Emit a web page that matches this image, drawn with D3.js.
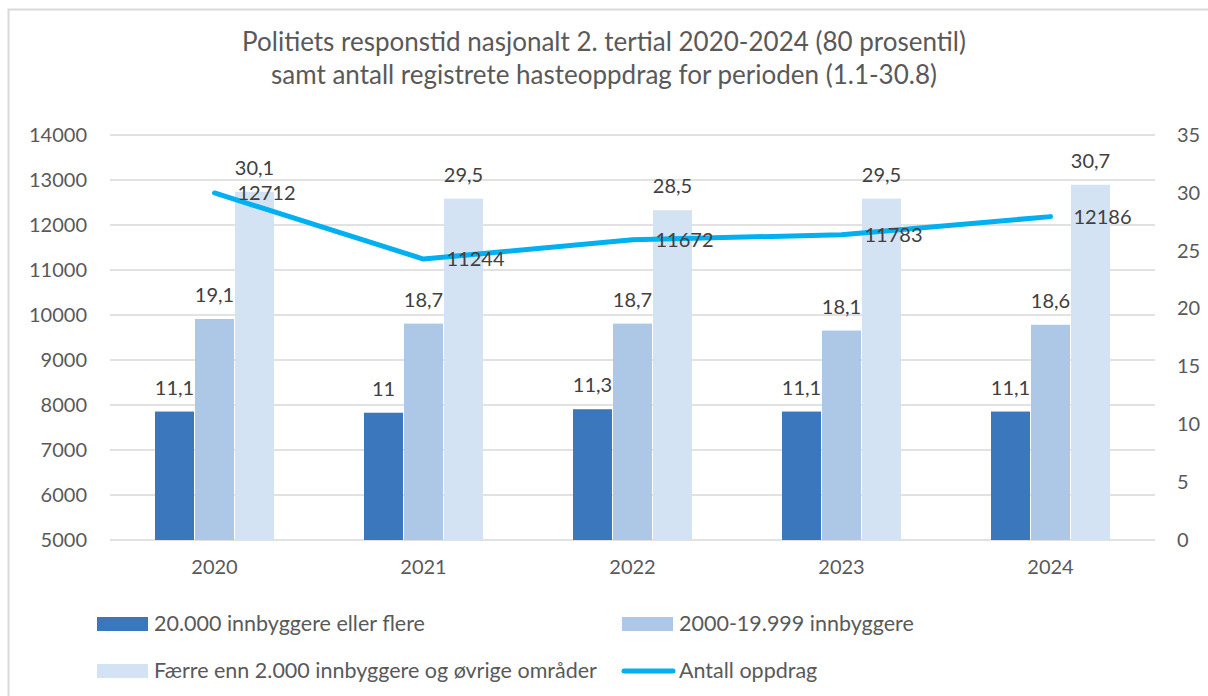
<!DOCTYPE html>
<html>
<head>
<meta charset="utf-8">
<script src="https://cdn.jsdelivr.net/npm/d3@7"></script>
<style>
  body { margin: 0; background: #fff; }
  svg { font-family: Lato, "Open Sans", sans-serif; }
</style>
</head>
<body>
<svg width="1208" height="696"></svg>
<script>
const years = ["2020", "2021", "2022", "2023", "2024"]
const big = [11.1, 11, 11.3, 11.1, 11.1]
const mid = [19.1, 18.7, 18.7, 18.1, 18.6]
const small = [30.1, 29.5, 28.5, 29.5, 30.7]
const oppdrag = [12712, 11244, 11672, 11783, 12186]

const seriesNames = [
  "20.000 innbyggere eller flere",
  "2000-19.999 innbyggere",
  "Færre enn 2.000 innbyggere og øvrige områder",
  "Antall oppdrag"
]
const colors = ["#3a77bc", "#adc8e6", "#d4e3f3", "#00b0f0"]
const leftTicks = [5000, 6000, 7000, 8000, 9000, 10000, 11000, 12000, 13000, 14000]
const rightTicks = [0, 5, 10, 15, 20, 25, 30, 35]

const barSeries = [big, mid, small]

const svg = d3.select("svg")
const plotL = 110, plotR = 1155, plotT = 135, plotB = 540

// chart frame
svg.append("rect")
  .attr("x", 8.5).attr("y", 9.5)
  .attr("width", 1300).attr("height", 800)
  .attr("fill", "none").attr("stroke", "#d9d9d9").attr("stroke-width", 2)

svg.append("text")
  .attr("x", 604).attr("y", 51)
  .attr("text-anchor", "middle")
  .attr("font-size", 26).attr("fill", "#595959")
  .text("Politiets responstid nasjonalt 2. tertial 2020-2024 (80 prosentil)")
svg.append("text")
  .attr("x", 604).attr("y", 84)
  .attr("text-anchor", "middle")
  .attr("font-size", 26).attr("fill", "#595959")
  .text("samt antall registrete hasteoppdrag for perioden (1.1-30.8)")

const x = d3.scaleBand().domain(years).range([plotL, plotR])
const yL = d3.scaleLinear().domain([5000, 14000]).range([plotB, plotT])
const yR = d3.scaleLinear().domain([0, 35]).range([plotB, plotT])

// gridlines
svg.append("g")
  .selectAll("line")
  .data(leftTicks).enter()
  .append("line")
  .attr("x1", plotL).attr("x2", plotR)
  .attr("y1", d => yL(d)).attr("y2", d => yL(d))
  .attr("stroke", "#d9d9d9").attr("stroke-width", 1.5)

// axes
const axL = svg.append("g")
  .attr("transform", "translate(" + plotL + ",0)")
  .call(d3.axisLeft(yL).tickValues(leftTicks).tickSize(0).tickPadding(23).tickFormat(d3.format("d")))
const axR = svg.append("g")
  .attr("transform", "translate(" + plotR + ",0)")
  .call(d3.axisRight(yR).tickValues(rightTicks).tickSize(0).tickPadding(22))
const axX = svg.append("g")
  .attr("transform", "translate(0," + plotB + ")")
  .call(d3.axisBottom(x).tickSize(0).tickPadding(20))
;[axL, axR, axX].forEach(a => {
  a.select(".domain").remove()
  a.selectAll("text").attr("font-size", 20).attr("fill", "#595959").attr("font-family", "Lato")
})

// bars
const barW = 40
const x0 = d => x(d) + x.bandwidth() / 2 - barW * 1.5
barSeries.forEach((vals, i) => {
  svg.append("g")
    .selectAll("rect")
    .data(years).enter()
    .append("rect")
    .attr("x", (d) => x0(d) + i * barW + 0.5)
    .attr("width", barW - 1)
    .attr("y", (d, j) => yR(vals[j]))
    .attr("height", (d, j) => plotB - yR(vals[j]))
    .attr("fill", colors[i])
  svg.append("g")
    .selectAll("text")
    .data(years).enter()
    .append("text")
    .attr("x", d => x0(d) + i * barW + barW / 2)
    .attr("y", (d, j) => yR(vals[j]) - 17)
    .attr("text-anchor", "middle")
    .attr("font-size", 20).attr("fill", "#404040")
    .text((d, j) => String(vals[j]).replace(".", ","))
})

// line
const line = d3.line()
  .x((d, j) => x(years[j]) + x.bandwidth() / 2)
  .y(d => yL(d))
svg.append("path")
  .datum(oppdrag)
  .attr("d", line)
  .attr("fill", "none")
  .attr("stroke", colors[3]).attr("stroke-width", 5)
  .attr("stroke-linecap", "round").attr("stroke-linejoin", "round")

svg.append("g")
  .selectAll("text")
  .data(oppdrag).enter()
  .append("text")
  .attr("x", (d, j) => x(years[j]) + x.bandwidth() / 2 + 23)
  .attr("y", d => yL(d) + 7)
  .attr("font-size", 20).attr("fill", "#404040")
  .text(d => d)

// legend
const legendPos = [[97, 624], [622, 624], [97, 671], [622, 671]]
seriesNames.forEach((name, i) => {
  const p = legendPos[i]
  if (i < 3) {
    svg.append("rect")
      .attr("x", p[0]).attr("y", p[1] - 7)
      .attr("width", 51).attr("height", 14)
      .attr("fill", colors[i])
  } else {
    svg.append("line")
      .attr("x1", p[0] + 2).attr("x2", p[0] + 51)
      .attr("y1", p[1]).attr("y2", p[1])
      .attr("stroke", colors[i]).attr("stroke-width", 5)
      .attr("stroke-linecap", "round")
  }
  svg.append("text")
    .attr("x", p[0] + 57).attr("y", p[1] + 7)
    .attr("font-size", 21.5).attr("fill", "#595959")
    .text(name)
})
</script>
</body>
</html>
